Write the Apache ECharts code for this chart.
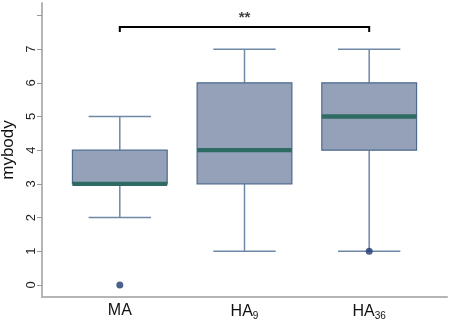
<!DOCTYPE html>
<html>
<head>
<meta charset="utf-8">
<script src="https://cdn.jsdelivr.net/npm/echarts@6/dist/echarts.min.js"></script>
<style>
  html, body { margin: 0; padding: 0; background: #fff; }
  #main { width: 452px; height: 324px; }
</style>
</head>
<body>
<div id="main"></div>
<script>
// groups and box stats: [min, q1, median, q3, max]
const groups = ['MA', 'HA9', 'HA36'];
const groupLabels = ['MA', 'HA{sub|9}', 'HA{sub|36}'];
const mins = [2, 1, 1];
const q1s = [3, 3, 4];
const medians = [3, 4, 5];
const q3s = [4, 6, 6];
const maxs = [5, 7, 7];
const outliers = [[1, 0], [3, 1]];
const yTicks = [0, 1, 2, 3, 4, 5, 6, 7, 8];
const yLabels = [0, 1, 2, 3, 4, 5, 6, 7];
// significance bracket between group 1 and group 3
const sig = { from: 1, to: 3, level: 7.66, text: '**' };

const boxData = groups.map((g, i) => [i + 1, mins[i], q1s[i], medians[i], q3s[i], maxs[i]]);

const myChart = echarts.init(document.getElementById('main'));
myChart.setOption({
  animation: false,
  grid: { left: 42, right: 5, top: 3, bottom: 27, outerBoundsMode: 'none', containLabel: false },
  xAxis: {
    type: 'value',
    min: 0.376,
    max: 3.624,
    splitLine: { show: false },
    axisLine: { show: true, onZero: false, lineStyle: { color: '#b5b5b5', width: 2 } },
    axisTick: { show: false },
    axisLabel: {
      customValues: [1, 2, 3],
      margin: 6,
      color: '#111',
      fontSize: 16,
      fontFamily: 'Liberation Sans',
      formatter: (v) => groupLabels[Math.round(v) - 1],
      rich: {
        sub: { fontSize: 10, fontFamily: 'Liberation Sans', color: '#111', verticalAlign: 'bottom', padding: [8, 0, 0, 0] }
      }
    }
  },
  yAxis: {
    type: 'value',
    min: -0.36,
    max: 8.37,
    name: 'mybody',
    nameLocation: 'middle',
    nameRotate: 90,
    nameGap: 9,
    nameTextStyle: { color: '#111', fontSize: 17, fontFamily: 'Liberation Sans' },
    splitLine: { show: false },
    axisLine: { show: true, lineStyle: { color: '#b5b5b5', width: 2 } },
    axisTick: { show: true, customValues: yTicks, length: 5, lineStyle: { color: '#9a9a9a', width: 1 } },
    axisLabel: {
      customValues: yLabels,
      rotate: 90,
      margin: 4,
      color: '#222',
      fontSize: 13,
      fontFamily: 'Liberation Sans'
    }
  },
  series: [
    {
      type: 'custom',
      data: boxData,
      renderItem: function (params, api) {
        const x = api.value(0);
        const unit = api.size([1, 0])[0];
        const half = unit * 0.38;
        const capHalf = unit * 0.25;
        const pMin = api.coord([x, api.value(1)]);
        const pQ1 = api.coord([x, api.value(2)]);
        const pMed = api.coord([x, api.value(3)]);
        const pQ3 = api.coord([x, api.value(4)]);
        const pMax = api.coord([x, api.value(5)]);
        const cx = pMin[0];
        const whisker = { stroke: '#6f88a8', lineWidth: 1.5 };
        return {
          type: 'group',
          children: [
            { type: 'line', shape: { x1: cx, y1: pMax[1], x2: cx, y2: pQ3[1] }, style: whisker },
            { type: 'line', shape: { x1: cx, y1: pQ1[1], x2: cx, y2: pMin[1] }, style: whisker },
            { type: 'line', shape: { x1: cx - capHalf, y1: pMax[1], x2: cx + capHalf, y2: pMax[1] }, style: whisker },
            { type: 'line', shape: { x1: cx - capHalf, y1: pMin[1], x2: cx + capHalf, y2: pMin[1] }, style: whisker },
            {
              type: 'rect',
              shape: { x: cx - half, y: pQ3[1], width: half * 2, height: pQ1[1] - pQ3[1] },
              style: { fill: '#95a1b8', stroke: '#4d6b8e', lineWidth: 1.2 }
            },
            {
              type: 'rect',
              shape: { x: cx - half, y: pMed[1] - 2.2, width: half * 2, height: 4.4 },
              style: { fill: '#2e6b63' }
            }
          ]
        };
      }
    },
    {
      type: 'scatter',
      data: outliers,
      symbol: 'circle',
      symbolSize: 7,
      itemStyle: { color: '#1f3b70' },
      z: 5
    },
    {
      type: 'custom',
      data: [[sig.from, sig.to, sig.level]],
      renderItem: function (params, api) {
        const a = api.coord([api.value(0), api.value(2)]);
        const b = api.coord([api.value(1), api.value(2)]);
        const style = { stroke: '#000', lineWidth: 2, fill: 'none' };
        return {
          type: 'group',
          children: [
            { type: 'polyline', shape: { points: [[a[0], a[1] + 5], [a[0], a[1]], [b[0], b[1]], [b[0], b[1] + 5]] }, style: style },
            {
              type: 'text',
              style: {
                text: sig.text,
                x: (a[0] + b[0]) / 2,
                y: a[1] - 2,
                align: 'center',
                verticalAlign: 'bottom',
                fill: '#444',
                font: 'bold 15px Liberation Sans'
              }
            }
          ]
        };
      }
    }
  ]
});
</script>
</body>
</html>
